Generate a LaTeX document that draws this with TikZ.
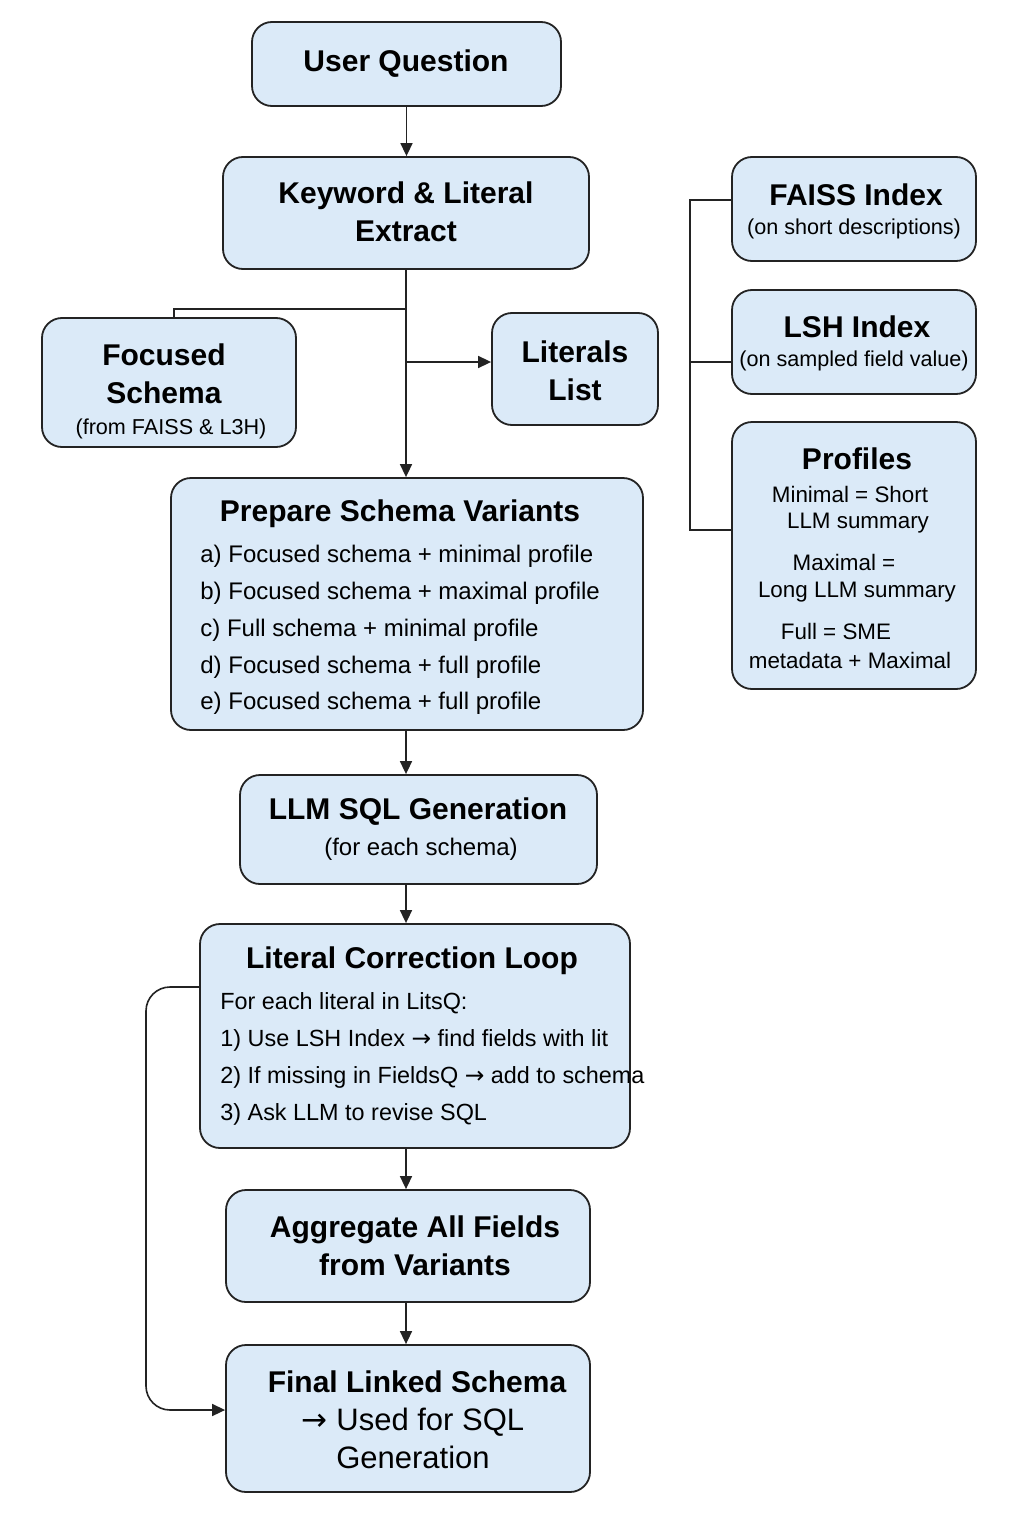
\documentclass[tikz,border=0pt]{standalone}
\usepackage{fontspec}
\setmainfont{Liberation Sans}
\newfontfamily\symf{DejaVu Sans}
\usetikzlibrary{arrows.meta,fit}
\definecolor{boxfill}{RGB}{219,234,248}
\definecolor{boxline}{RGB}{35,35,35}
\newcommand\ftitle{\fontsize{15}{19}\selectfont\bfseries}
\newcommand\fbody{\fontsize{12}{18.4}\selectfont}
\newcommand\fsub{\fontsize{10.8}{13}\selectfont}
\newcommand\fprof{\fontsize{11.2}{14}\selectfont}
\newcommand\fbig{\fontsize{15.5}{19}\selectfont}
\newcommand\rarr{{\symf →}}
\begin{document}
\begin{tikzpicture}[x=0.5pt,y=-0.5pt,
  box/.style={draw=boxline, line width=0.9pt, fill=boxfill, rounded corners=10pt, inner sep=0pt},
  conn/.style={draw=boxline, line width=0.8pt},
  arr/.style={conn, -{Triangle[length=6.5pt,width=6pt]}},
  txt/.style={inner sep=0pt, text=black}]
\useasboundingbox[fill=white] (0,0) rectangle (1024,1536);

% main column
\node[box, fit={(252,22)(561,106)}] (uq) {};
\node[txt, font=\ftitle] (uqt) at (406,64) {User Question};

\node[box, fit={(223,157)(589,269)}] (kle) {};
\node[txt, font=\ftitle, align=center] (klet) at (406,212) {Keyword \& Literal\\Extract};

\node[box, fit={(42,318)(296,447)}] (fs) {};
\node[txt, font=\ftitle, align=center] (fst) at (164,374) {Focused\\Schema};
\node[txt, font=\fsub] (fss) at (171,429) {(from FAISS \& L3H)};

\node[box, fit={(492,313)(658,425)}] (ll) {};
\node[txt, font=\ftitle, align=center] (llt) at (575,371) {Literals\\List};

\node[box, fit={(171,478)(643,730)}] (psv) {};
\node[txt, font=\ftitle] (psvt) at (400,514) {Prepare Schema Variants};
\node[txt, font=\fbody, align=left, anchor=west] (psvb) at (200,630) {a) Focused schema + minimal profile\\b) Focused schema + maximal profile\\c) Full schema + minimal profile\\d) Focused schema + full profile\\e) Focused schema + full profile};

\node[box, fit={(240,775)(597,884)}] (llm) {};
\node[txt, font=\ftitle] (llmt) at (418,812) {LLM SQL Generation};
\node[txt, font=\fontsize{12}{14}\selectfont] (llms) at (421,849) {(for each schema)};

\node[box, fit={(200,924)(630,1148)}] (lcl) {};
\node[txt, font=\ftitle] (lclt) at (412,961) {Literal Correction Loop};
\node[txt, font={\fontsize{11.7}{18.5}\selectfont}, align=left, anchor=west] (lclb) at (220,1059) {For each literal in LitsQ:\\1) Use LSH Index \rarr{} find fields with lit\\2) If missing in FieldsQ \rarr{} add to schema\\3) Ask LLM to revise SQL};

\node[box, fit={(226,1190)(590,1302)}] (agg) {};
\node[txt, font=\ftitle, align=center] (aggt) at (415,1246) {Aggregate All Fields\\from Variants};

\node[box, fit={(226,1345)(590,1492)}] (fin) {};
\node[txt, font=\ftitle] (fint) at (417,1382) {Final Linked Schema};
\node[txt, font=\fbig, align=center] (fins) at (413,1438) {\rarr{} Used for SQL\\Generation};

% right column
\node[box, fit={(732,157)(976,261)}] (faiss) {};
\node[txt, font=\ftitle] (faisst) at (856,195) {FAISS Index};
\node[txt, font=\fsub] (faisss) at (854,229) {(on short descriptions)};

\node[box, fit={(732,290)(976,394)}] (lsh) {};
\node[txt, font=\ftitle] (lsht) at (857,327) {LSH Index};
\node[txt, font=\fsub] (lshs) at (854,361) {(on sampled field value)};

\node[box, fit={(732,422)(976,689)}] (prof) {};
\node[txt, font=\ftitle] (proft) at (857,459) {Profiles};
\node[txt, font=\fprof] (p1) at (850,494) {Minimal = Short};
\node[txt, font=\fprof] (p2) at (858,523) {LLM summary};
\node[txt, font=\fprof] (p3) at (844,562) {Maximal =};
\node[txt, font=\fprof] (p4) at (857,592) {Long LLM summary};
\node[txt, font=\fprof] (p5) at (836,631) {Full = SME};
\node[txt, font=\fprof] (p6) at (850,660) {metadata + Maximal};

% connectors
\coordinate (j1) at (406,309);
\coordinate (j2) at (406,362);
\draw[arr] (uq.south) -- (uq.south |- kle.north);
\draw[arr] (kle.south) -- (kle.south |- psv.north);
\draw[conn] (j1) -| (174,318);
\draw[arr] (j2) -- (ll.west |- j2);
\draw[arr] (kle.south |- psv.south) -- (kle.south |- llm.north);
\draw[arr] (kle.south |- llm.south) -- (kle.south |- lcl.north);
\draw[arr] (kle.south |- lcl.south) -- (kle.south |- agg.north);
\draw[arr] (kle.south |- agg.south) -- (kle.south |- fin.north);
\draw[arr, rounded corners=12pt] (lcl.west |- 0,987) -- (146,987) -- (146,1410) -- (fin.west |- 0,1410);

\draw[conn] (faiss.west |- 0,200) -- (690,200) -- (690,530) -- (prof.west |- 0,530);
\draw[conn] (690,362) -- (lsh.west |- 0,362);
\end{tikzpicture}
\end{document}
